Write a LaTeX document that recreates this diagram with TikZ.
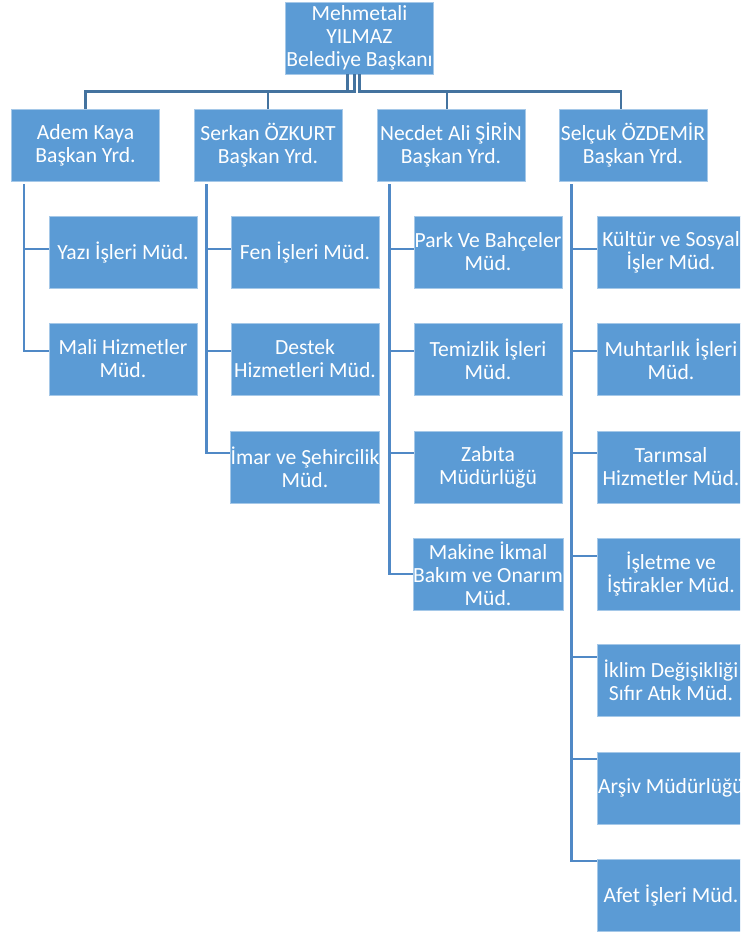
\documentclass[tikz,border=0pt]{standalone}
\usepackage{fontspec}
\setmainfont{Carlito}
\usetikzlibrary{calc}
\definecolor{boxblue}{HTML}{5B9BD5}
\definecolor{linkblue}{HTML}{44739F}
\definecolor{spineblue}{HTML}{5089C6}
\begin{document}
\begin{tikzpicture}[x=0.75pt, y=-0.75pt,
    unit/.style={fill=boxblue, draw=boxblue!55!white, line width=0.6pt, text=white, align=center,
      minimum width=111pt, minimum height=54pt, inner sep=0pt, font=\fontsize{16.2pt}{17.25pt}\selectfont},
    link/.style={draw=linkblue, line width=1.8pt},
    spine/.style={draw=spineblue, line width=1.8pt}]
  \clip (0,0) rectangle (740,933);
  \node [unit] (top) at (359.5,38) {Mehmetali\\YILMAZ\\Belediye Başkanı};
  \node [unit] (adem) at (85.5,145) {Adem Kaya\\Başkan Yrd.};
  \node [unit] (serkan) at (268,145) {Serkan ÖZKURT\\Başkan Yrd.};
  \node [unit] (necdet) at (451,145) {Necdet Ali ŞİRİN\\Başkan Yrd.};
  \node [unit] (selcuk) at (633,145) {Selçuk ÖZDEMİR\\Başkan Yrd.};
  \node [unit] (yazi) at (123,252) {Yazı İşleri Müd.};
  \node [unit] (mali) at (123,359) {Mali Hizmetler\\Müd.};
  \node [unit] (fen) at (305,252) {Fen İşleri Müd.};
  \node [unit] (destek) at (305,359) {Destek\\Hizmetleri Müd.};
  \node [unit] (imar) at (305,467) {İmar ve Şehircilik\\Müd.};
  \node [unit] (park) at (488,252) {Park Ve Bahçeler\\Müd.};
  \node [unit] (temizlik) at (488,359) {Temizlik İşleri\\Müd.};
  \node [unit] (zabita) at (488,467) {Zabıta\\Müdürlüğü};
  \node [unit] (makine) at (488,574) {Makine İkmal\\Bakım ve Onarım\\Müd.};
  \node [unit] (kultur) at (671,252) {Kültür ve Sosyal\\İşler Müd.};
  \node [unit] (muhtar) at (671,359) {Muhtarlık İşleri\\Müd.};
  \node [unit] (tarim) at (671,467) {Tarımsal\\Hizmetler Müd.};
  \node [unit] (isletme) at (671,574) {İşletme ve\\İştirakler Müd.};
  \node [unit] (iklim) at (671,680) {İklim Değişikliği\\Sıfır Atık Müd.};
  \node [unit] (arsiv) at (671,788) {Arşiv Müdürlüğü};
  \node [unit] (afet) at (671,895) {Afet İşleri Müd.};
  \draw [link] ([xshift=-9pt]top.south) -- ++(0,17) -| (adem.north);
  \draw [link] ([xshift=-3.75pt]top.south) -- ++(0,17) -| (serkan.north);
  \draw [link] (top.south) -- ++(0,17) -| ([xshift=-3pt]necdet.north);
  \draw [link] (top.south) -- ++(0,17) -| ([xshift=-9pt]selcuk.north);
  \draw [spine] ($(adem.south west)+(13,3)$) |- ($(yazi.west)+(0,-3)$);
  \draw [spine] ($(adem.south west)+(13,3)$) |- ($(mali.west)+(0,-8)$);
  \draw [spine] ($(serkan.south west)+(13,3)$) |- ($(fen.west)+(0,-3)$);
  \draw [spine] ($(serkan.south west)+(13,3)$) |- ($(destek.west)+(0,-8)$);
  \draw [spine] ($(serkan.south west)+(13,3)$) |- ($(imar.west)+(0,-14)$);
  \draw [spine] ($(necdet.south west)+(13,3)$) |- ($(park.west)+(0,-3)$);
  \draw [spine] ($(necdet.south west)+(13,3)$) |- ($(temizlik.west)+(0,-8)$);
  \draw [spine] ($(necdet.south west)+(13,3)$) |- ($(zabita.west)+(0,-14)$);
  \draw [spine] ($(necdet.south west)+(13,3)$) |- (makine.west);
  \draw [spine] ($(selcuk.south west)+(13,3)$) |- ($(kultur.west)+(0,-3)$);
  \draw [spine] ($(selcuk.south west)+(13,3)$) |- ($(muhtar.west)+(0,-8)$);
  \draw [spine] ($(selcuk.south west)+(13,3)$) |- ($(tarim.west)+(0,-14)$);
  \draw [spine] ($(selcuk.south west)+(13,3)$) |- ($(isletme.west)+(0,-18)$);
  \draw [spine] ($(selcuk.south west)+(13,3)$) |- ($(iklim.west)+(0,-23)$);
  \draw [spine] ($(selcuk.south west)+(13,3)$) |- ($(arsiv.west)+(0,-29)$);
  \draw [spine] ($(selcuk.south west)+(13,3)$) |- ($(afet.west)+(0,-34)$);
\end{tikzpicture}
\end{document}
